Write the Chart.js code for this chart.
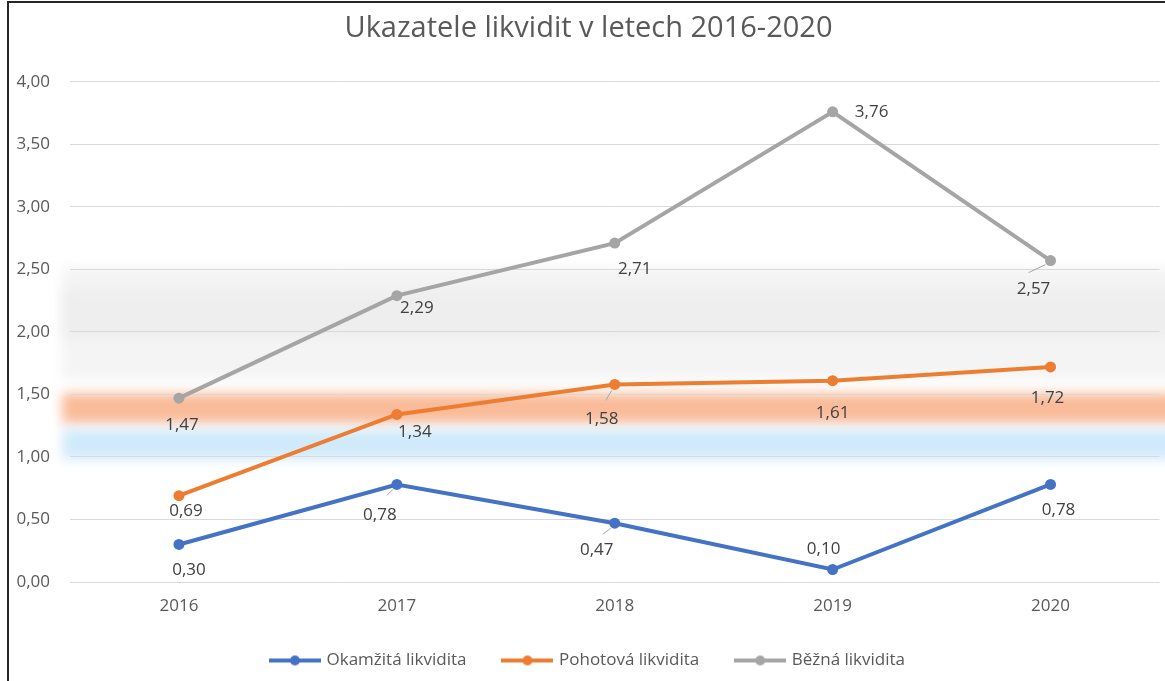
<!DOCTYPE html>
<html>
<head>
<meta charset="utf-8">
<script src="https://cdn.jsdelivr.net/npm/chart.js@4.4.1/dist/chart.umd.min.js"></script>
<style>
  html, body { margin: 0; padding: 0; background: #fff; }
  #wrap { position: relative; width: 1165px; height: 681px; overflow: hidden; }
  #c { position: absolute; left: 0; top: 0; }
  #frame { position: absolute; left: 7px; top: 1px; width: 1170px; height: 700px;
           border-top: 2px solid #262626; border-left: 2px solid #262626; pointer-events: none; }
</style>
</head>
<body>
<div id="wrap">
  <canvas id="c" width="1165" height="681"></canvas>
  <div id="frame"></div>
</div>
<script>
// ---- data ----
const years = ['2016', '2017', '2018', '2019', '2020'];
const okamzita = [0.30, 0.78, 0.47, 0.10, 0.78];
const pohotova = [0.69, 1.34, 1.58, 1.61, 1.72];
const bezna = [1.47, 2.29, 2.71, 3.76, 2.57];
const seriesNames = ['Okamžitá likvidita', 'Pohotová likvidita', 'Běžná likvidita'];
const chartTitle = 'Ukazatele likvidit v letech 2016-2020';
const yMin = 0, yMax = 4, yStep = 0.5;
// recommended ranges shown as blurred bands (lower / upper bound)
const bandLow = [0.98, 1.27, 1.62, 1.95];
const bandHigh = [1.22, 1.51, 2.52, 2.35];

// ---- styles ----
const colors = ['#4472C4', '#ED7D31', '#A5A5A5'];
const bandColors = ['rgba(200,230,250,0.85)', 'rgba(247,168,124,0.78)', 'rgba(234,234,234,0.5)', 'rgba(225,225,225,0.4)'];
const FONT = "'Open Sans', 'Lato', sans-serif";
const textGray = '#595959';
// label offsets relative to each point [dx, dy]
const labelOffsets = [
  [[10, 26], [-17, 31], [-18, 27], [-9, -20], [8, 26]],
  [[7, 15], [18, 18], [-13, 35], [0, 32], [-3, 31]],
  [[3, 27], [20, 13], [20, 26], [39, 0], [-17, 29]]
];
// short leader lines for some labels: [dx1, dy1, dx2, dy2] relative to the point (null = none)
const leaders = [
  [null, [-4, 5, -10, 11], [-4, 5, -12, 11], null, null],
  [null, null, [-3, 6, -9, 16], null, null],
  [null, null, null, null, [-5, 4, -22, 12]]
];

const fmt = v => v.toFixed(2).replace('.', ',');

function legendMarker(color) {
  const c = document.createElement('canvas');
  c.width = 52; c.height = 12;
  const x = c.getContext('2d');
  x.strokeStyle = color; x.lineWidth = 4;
  x.beginPath(); x.moveTo(0, 6); x.lineTo(52, 6); x.stroke();
  x.fillStyle = color;
  x.beginPath(); x.arc(26, 6, 5, 0, Math.PI * 2); x.fill();
  return c;
}

const bandsPlugin = {
  id: 'bands',
  beforeDraw(chart) {
    const { ctx, chartArea, scales } = chart;
    const y = scales.y;
    ctx.save();
    ctx.fillStyle = '#fff';
    ctx.fillRect(0, 0, chart.width, chart.height);
    ctx.filter = 'blur(6px)';
    for (let i = bandLow.length - 1; i >= 0; i--) {
      const top = y.getPixelForValue(bandHigh[i]);
      const bot = y.getPixelForValue(bandLow[i]);
      ctx.fillStyle = bandColors[i];
      ctx.fillRect(chartArea.left - 8, top, chartArea.right - chartArea.left + 40, bot - top);
    }
    ctx.restore();
  }
};

const labelsPlugin = {
  id: 'pointLabels',
  afterDatasetsDraw(chart) {
    const { ctx } = chart;
    ctx.save();
    ctx.font = "17px " + FONT;
    ctx.textAlign = 'center';
    ctx.textBaseline = 'middle';
    chart.data.datasets.forEach((ds, di) => {
      const meta = chart.getDatasetMeta(di);
      meta.data.forEach((pt, i) => {
        const ld = leaders[di][i];
        if (ld) {
          ctx.strokeStyle = '#a6a6a6';
          ctx.lineWidth = 1;
          ctx.beginPath();
          ctx.moveTo(pt.x + ld[0], pt.y + ld[1]);
          ctx.lineTo(pt.x + ld[2], pt.y + ld[3]);
          ctx.stroke();
        }
        const [dx, dy] = labelOffsets[di][i];
        ctx.fillStyle = '#404040';
        ctx.fillText(fmt(ds.data[i]), pt.x + dx, pt.y + dy);
      });
    });
    ctx.restore();
  }
};

const seriesData = [okamzita, pohotova, bezna];

new Chart(document.getElementById('c'), {
  type: 'line',
  data: {
    labels: years,
    datasets: seriesData.map((d, i) => ({
      label: seriesNames[i],
      data: d,
      borderColor: colors[i],
      backgroundColor: colors[i],
      borderWidth: 4,
      pointRadius: 5.5,
      pointBackgroundColor: colors[i],
      pointBorderColor: colors[i],
      pointBorderWidth: 0,
      tension: 0,
      fill: false
    }))
  },
  options: {
    responsive: false,
    animation: false,
    events: [],
    layout: { padding: { left: 12, right: 0, top: 0, bottom: 2 } },
    plugins: {
      title: {
        display: true,
        text: chartTitle,
        color: textGray,
        font: { family: FONT, size: 29, weight: 'normal' },
        padding: { top: 11, bottom: 36 }
      },
      legend: {
        position: 'bottom',
        labels: {
          color: textGray,
          font: { family: FONT, size: 17 },
          usePointStyle: true,
          pointStyleWidth: 46,
          padding: 38,
          generateLabels(chart) {
            return chart.data.datasets.map((ds, i) => ({
              text: ds.label,
              fillStyle: colors[i],
              strokeStyle: colors[i],
              fontColor: textGray,
              lineWidth: 0,
              pointStyle: legendMarker(colors[i]),
              datasetIndex: i,
              hidden: false
            }));
          }
        }
      },
      tooltip: { enabled: false }
    },
    scales: {
      x: {
        offset: true,
        grid: { display: false, drawTicks: false },
        border: { display: false },
        ticks: { color: textGray, font: { family: FONT, size: 17 }, padding: 14 },
        afterFit(scale) { scale.height = 32; }
      },
      y: {
        min: yMin,
        max: yMax,
        grid: { color: '#d9d9d9', lineWidth: 1, drawTicks: false },
        border: { display: false },
        ticks: {
          stepSize: yStep,
          color: textGray,
          font: { family: FONT, size: 17 },
          padding: 20,
          callback: v => fmt(v)
        },
        afterFit(scale) { scale.width = 58; }
      }
    }
  },
  plugins: [bandsPlugin, labelsPlugin]
});
</script>
</body>
</html>
